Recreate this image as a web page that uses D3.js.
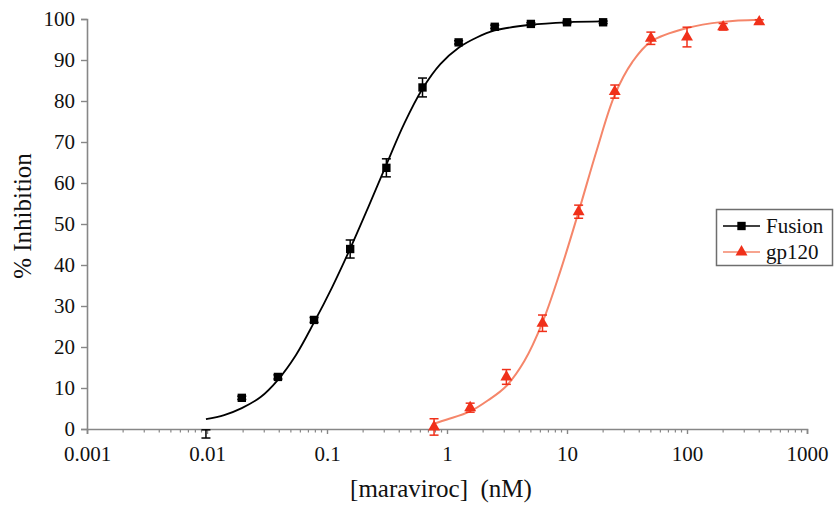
<!DOCTYPE html>
<html><head><meta charset="utf-8">
<script src="https://cdn.jsdelivr.net/npm/d3@7"></script>
</head><body style="margin:0;padding:0;background:#fff;font-family:'Liberation Serif'">
<svg id="chart" width="835" height="506" font-family="Liberation Serif" style="display:block;font-family:'Liberation Serif'"></svg>
<script>
// ---- data ----
const xTickValues = [0.001, 0.01, 0.1, 1, 10, 100, 1000];
const xTickLabels = ["0.001", "0.01", "0.1", "1", "10", "100", "1000"];
const yTickValues = [0, 10, 20, 30, 40, 50, 60, 70, 80, 90, 100];

const fusionConc = [0.0098, 0.0195, 0.039, 0.078, 0.156, 0.3125, 0.625, 1.25, 2.5, 5, 10, 20];
const fusionInh  = [-1.2, 7.6, 12.7, 26.6, 43.9, 63.7, 83.3, 94.3, 98.1, 98.8, 99.2, 99.2];
const fusionErr  = [1.0, 0.4, 0.5, 0.6, 2.2, 2.2, 2.3, 0.4, 0.4, 0.3, 0.3, 0.3];

const gp120Conc = [0.78, 1.56, 3.125, 6.25, 12.5, 25, 50, 100, 200, 400];
const gp120Inh  = [0.5, 5.2, 12.7, 25.8, 53.0, 82.3, 95.3, 95.6, 98.1, 99.3];
const gp120Err  = [2.0, 1.1, 1.8, 2.0, 1.6, 1.6, 1.5, 2.4, 0.8, 0.5];

// fitted curves
const fusionFitConc = [0.0098, 0.0139, 0.0195, 0.028, 0.039, 0.055, 0.078, 0.11, 0.156, 0.22, 0.3125, 0.44, 0.625, 0.88, 1.25, 1.77, 2.5, 5, 10, 20];
const fusionFitInh  = [2.4, 3.4, 5.1, 7.8, 12.0, 18.0, 26.0, 34.5, 44.0, 54.0, 64.5, 74.5, 83.0, 89.0, 93.0, 95.5, 97.2, 98.6, 99.2, 99.4];
const gp120FitConc = [0.78, 1.0, 1.56, 2.2, 3.125, 4.4, 6.25, 8.8, 12.5, 17.7, 25, 35, 50, 100, 200, 400];
const gp120FitInh  = [1.3, 2.3, 4.3, 7.0, 10.5, 16.5, 26.0, 38.5, 53.0, 68.0, 81.5, 89.5, 94.5, 97.8, 99.3, 99.8];

const seriesNames = ["Fusion", "gp120"];

// ---- drawing ----
const svg = d3.select("#chart");
const FONT = "Liberation Serif";
const axisColor = "#878787";
const fusionColor = "#000000";
const gpMarker = "#f0301a";
const gpLine = "#f5866a";

const x = d3.scaleLog().domain([0.001, 1000]).range([87, 807]);
const y = d3.scaleLinear().domain([0, 100]).range([429, 19]);

function styleText(sel, size) {
  sel.attr("font-family", FONT).attr("font-size", size)
     .style("font-family", '"Liberation Serif"').style("font-size", size + "px").attr("fill", "#111");
}

// axes
const xAxis = d3.axisBottom(x).tickValues(xTickValues).tickSize(5)
  .tickFormat((d, i) => xTickLabels[i]).tickPadding(12);
const gx = svg.append("g").attr("transform", `translate(0,${y(0)})`).call(xAxis);
gx.attr("font-family", FONT).attr("font-size", 21);
gx.select(".domain").attr("stroke", axisColor).attr("stroke-width", 1.6);
gx.selectAll(".tick line").attr("stroke", axisColor).attr("stroke-width", 1.4);
styleText(gx.selectAll(".tick text"), 21);

// minor ticks
const minor = [];
for (let e = -3; e < 3; e++) for (let m = 2; m <= 9; m++) minor.push(m * Math.pow(10, e));
svg.append("g").selectAll("line").data(minor).join("line")
  .attr("x1", d => x(d)).attr("x2", d => x(d))
  .attr("y1", y(0)).attr("y2", y(0) + 3.5)
  .attr("stroke", axisColor).attr("stroke-width", 1.2);

const yAxis = d3.axisLeft(y).tickValues(yTickValues).tickSize(6).tickPadding(6);
const gy = svg.append("g").attr("transform", `translate(${x(0.001)},0)`).call(yAxis);
gy.attr("font-family", FONT).attr("font-size", 21);
gy.select(".domain").attr("stroke", axisColor).attr("stroke-width", 1.6);
gy.selectAll(".tick line").attr("stroke", axisColor).attr("stroke-width", 1.4);
styleText(gy.selectAll(".tick text"), 21);

// axis titles
styleText(svg.append("text").attr("x", 441).attr("y", 497).attr("text-anchor", "middle")
  .style("white-space", "pre").text("[maraviroc]  (nM)"), 25);
styleText(svg.append("text").attr("transform", "translate(31,216) rotate(-90)").attr("text-anchor", "middle")
  .text("% Inhibition"), 25);

// curves
const line = d3.line().x(d => x(d[0])).y(d => y(d[1])).curve(d3.curveCatmullRom.alpha(0.5));
svg.append("path").datum(gp120FitConc.map((c, i) => [c, gp120FitInh[i]]))
  .attr("d", line).attr("fill", "none").attr("stroke", gpLine).attr("stroke-width", 2);
svg.append("path").datum(fusionFitConc.map((c, i) => [c, fusionFitInh[i]]))
  .attr("d", line).attr("fill", "none").attr("stroke", fusionColor).attr("stroke-width", 1.8);

// error bars
function errBars(conc, val, err, color) {
  const g = svg.append("g").attr("stroke", color).attr("stroke-width", 1.5);
  const d = conc.map((c, i) => ({c, v: val[i], e: err[i]}));
  g.selectAll("line.v").data(d).join("line").attr("class", "v")
    .attr("x1", d => x(d.c)).attr("x2", d => x(d.c))
    .attr("y1", d => y(d.v - d.e)).attr("y2", d => y(d.v + d.e));
  g.selectAll("line.t").data(d).join("line").attr("class", "t")
    .attr("x1", d => x(d.c) - 4.5).attr("x2", d => x(d.c) + 4.5)
    .attr("y1", d => y(d.v + d.e)).attr("y2", d => y(d.v + d.e));
  g.selectAll("line.b").data(d).join("line").attr("class", "b")
    .attr("x1", d => x(d.c) - 4.5).attr("x2", d => x(d.c) + 4.5)
    .attr("y1", d => y(d.v - d.e)).attr("y2", d => y(d.v - d.e));
}
errBars(fusionConc, fusionInh, fusionErr, fusionColor);
errBars(gp120Conc, gp120Inh, gp120Err, gpMarker);

// markers (values below the axis are not shown)
const sq = d3.symbol().type(d3.symbolSquare).size(70);
const tri = d3.symbol().type(d3.symbolTriangle).size(62);
svg.append("g").selectAll("path")
  .data(fusionConc.map((c, i) => [c, fusionInh[i]]).filter(d => d[1] >= 0))
  .join("path").attr("d", sq).attr("fill", fusionColor)
  .attr("transform", d => `translate(${x(d[0])},${y(d[1])})`);
svg.append("g").selectAll("path")
  .data(gp120Conc.map((c, i) => [c, gp120Inh[i]]).filter(d => d[1] >= 0))
  .join("path").attr("d", tri).attr("fill", gpMarker)
  .attr("transform", d => `translate(${x(d[0])},${y(d[1])})`);

// legend
const lg = svg.append("g");
lg.append("rect").attr("x", 716.5).attr("y", 209.5).attr("width", 116).attr("height", 56)
  .attr("fill", "#fff").attr("stroke", "#6e6e6e").attr("stroke-width", 1.5);
const legendItems = [
  {name: seriesNames[0], line: fusionColor, mark: fusionColor, sym: sq, y: 226},
  {name: seriesNames[1], line: gpLine, mark: gpMarker, sym: tri, y: 252}
];
legendItems.forEach(it => {
  lg.append("line").attr("x1", 723).attr("x2", 760).attr("y1", it.y).attr("y2", it.y)
    .attr("stroke", it.line).attr("stroke-width", 1.6);
  lg.append("path").attr("d", it.sym).attr("fill", it.mark)
    .attr("transform", `translate(741.5,${it.y})`);
  styleText(lg.append("text").attr("x", 766).attr("y", it.y + 7).text(it.name), 21);
});
</script>
</body></html>
